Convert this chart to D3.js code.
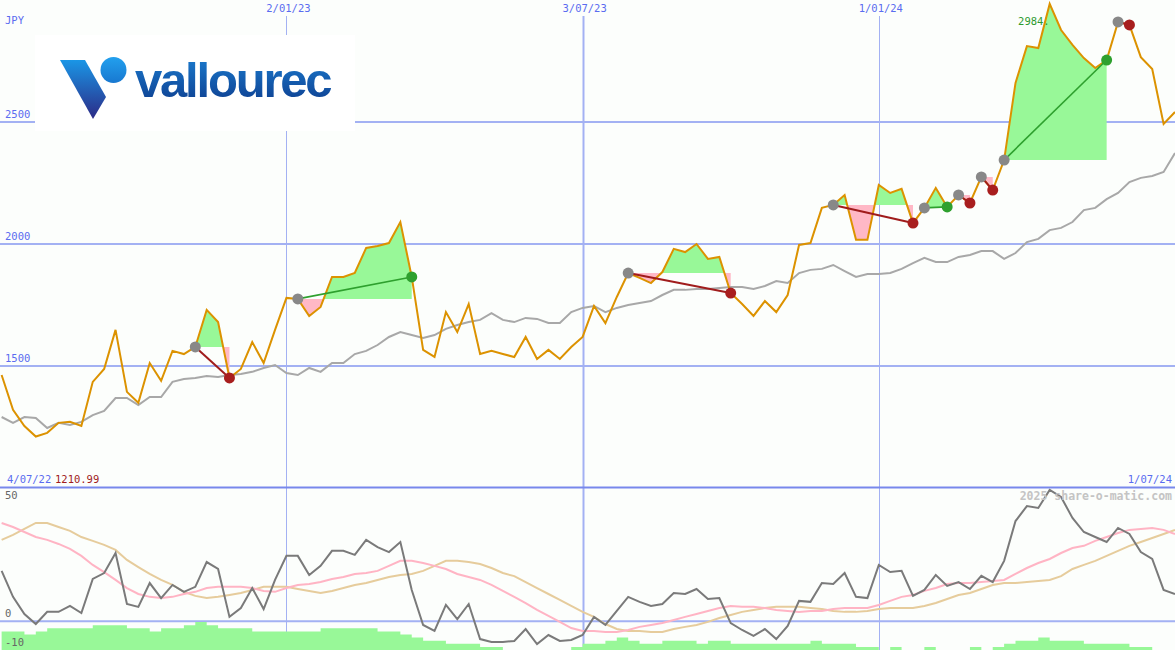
<!DOCTYPE html>
<html><head><meta charset="utf-8">
<script src="https://cdn.jsdelivr.net/npm/d3@7"></script>
<style>html,body{margin:0;padding:0;background:#fcfefc;overflow:hidden}</style>
</head><body>
<script>
// ---------- DATA ----------
const firstWeek = [2022, 6, 11];           // weekly points, Mondays
const price = [1463,1320,1254,1210.99,1226,1267,1271,1254,1435,1488,
  1648,1394,1349,1512,1439,1562,1549,1578,1730,1680,
  1451,1488,1598,1512,1648,1779,1775,1705,1742,1865,
  1865,1881,1984,1992,2004,2090,1865,1566,1537,1721,
  1639,1754,1549,1562,1549,1537,1619,1529,1566,1529,
  1578,1619,1746,1676,1783,1881,1861,1840,1885,1980,
  1967,2000,1939,1947,1799,1754,1705,1766,1721,1791,
  1996,2004,2148,2160,2201,2017,2017,2242,2209,2226,
  2086,2148,2230,2152,2201,2168,2275,2221,2344,2660,
  2811,2803,2984,2877,2816,2762,2721,2754,2910,2898,
  2766,2717,2492,2541];
const bench = [1291,1267,1291,1287,1246,1267,1258,1271,1299,1316,
  1369,1369,1340,1373,1373,1435,1447,1451,1459,1455,
  1463,1467,1476,1492,1504,1471,1463,1492,1476,1512,
  1512,1549,1562,1586,1619,1639,1627,1615,1627,1652,
  1668,1680,1689,1717,1689,1680,1697,1693,1676,1676,
  1721,1738,1746,1721,1738,1750,1758,1766,1791,1812,
  1812,1816,1816,1820,1824,1824,1816,1828,1848,1840,
  1881,1894,1898,1914,1889,1865,1877,1877,1881,1898,
  1922,1943,1926,1926,1947,1955,1971,1971,1939,1963,
  2008,2021,2057,2066,2090,2139,2148,2184,2209,2254,
  2271,2279,2295,2373];
const osc = [21.1,10.2,3.0,-1.2,3.9,3.9,6.4,3.4,17.7,20.2,
  28.6,7.2,6.0,16.0,9.7,15.2,12.3,14.4,24.8,21.9,
  1.8,5.5,13.9,5.1,17.3,27.4,27.4,19.4,23.2,29.5,
  29.5,27.8,34.1,31.1,29.0,33.2,13.1,-1.6,-4.1,6.8,
  0.9,7.2,-7.5,-8.7,-8.7,-8.3,-3.3,-9.6,-5.8,-8.3,
  -7.9,-5.8,1.8,-1.6,4.3,10.2,8.1,6.4,7.2,11.8,
  11.4,13.5,9.3,9.7,-0.8,-3.7,-6.2,-3.3,-7.5,-2.0,
  8.5,8.1,16.0,15.6,20.2,10.2,9.7,23.6,20.6,21.1,
  10.6,13.1,19.4,14.8,16.4,13.5,19.0,16.4,25.3,42.0,
  48.3,47.5,55.1,52.1,43.3,37.4,35.3,33.2,39.1,36.6,
  29.0,26.1,13.1,11.4];
const oscFast = [41.2,39.5,37.4,35.3,34.1,32.4,30.3,27.4,23.6,20.6,
  17.3,13.9,11.4,10.2,9.7,10.2,11.4,12.3,13.9,14.4,
  14.4,14.4,13.9,12.7,12.3,13.9,15.2,15.6,16.4,17.7,
  18.5,19.8,20.2,21.1,23.2,25.3,25.3,24.4,23.2,21.9,
  19.8,18.5,17.3,15.2,12.7,10.2,7.6,4.7,2.2,-0.3,
  -2.9,-4.1,-4.1,-4.5,-4.5,-3.7,-2.4,-1.6,-0.8,0.5,
  1.8,3.0,4.3,5.5,6.4,6.0,6.0,5.5,4.7,4.3,
  3.9,4.3,4.3,5.1,5.5,5.5,5.5,6.8,8.5,10.2,
  11.0,12.7,13.9,15.6,16.0,16.0,16.4,16.9,17.3,19.8,
  22.3,24.4,26.1,28.6,30.7,31.6,33.7,35.3,37.0,38.3,
  38.7,39.1,38.3,36.6];
const oscSlow = [34.1,36.2,38.7,41.2,41.2,39.5,37.9,35.3,33.7,32.0,
  29.9,25.7,22.7,19.8,17.3,15.2,12.3,10.6,9.7,10.2,
  11.0,11.8,13.1,14.4,14.4,14.4,13.5,12.7,11.8,12.7,
  13.9,15.2,16.0,17.3,18.5,19.4,19.8,21.1,23.2,25.3,
  25.3,24.8,24.0,22.3,20.2,18.9,16.4,13.9,11.4,8.9,
  6.4,3.9,1.8,-1.2,-3.3,-4.1,-4.1,-4.5,-4.5,-3.3,
  -2.4,-1.6,-0.3,1.3,2.6,3.9,4.7,5.5,6.0,6.0,
  6.0,5.5,5.1,4.3,3.9,3.9,4.3,5.1,5.5,5.5,
  5.5,6.4,7.6,9.3,11.0,11.8,13.5,15.2,16.0,16.0,
  16.4,16.9,17.3,18.9,21.9,23.6,25.3,27.4,29.5,31.6,
  33.2,34.9,36.6,38.3];
const bars = [6,6,5,6,7,7,7,7,8,8,
  8,7,7,6,7,7,8,9,8,7,
  7,7,6,6,6,6,6,6,7,7,
  7,7,7,6,6,5,4,3,3,2,
  2,2,1,1,0,0,0,0,0,0,
  1,2,2,3,4,3,2,2,3,3,
  3,2,3,3,2,2,2,2,2,2,
  2,3,2,2,2,1,1,0,1,0,
  0,1,0,0,0,1,0,1,2,3,
  3,4,3,3,3,2,2,2,2,1,
  1,0,0,0];
const tradeEntry = [17,26,55,73,81,84,86,88,98];
const tradeExit  = [20,36,64,80,83,85,87,97,99];
const priceTicks = [2500,2000,1500];
const oscTicks = [50,0,-10];
const gridDates = [[2023,0,2],[2023,6,3],[2024,0,1]];
const gridLabels = ["2/01/23","3/07/23","1/01/24"];
const startLabel = "4/07/22", endLabel = "1/07/24";
const currency = "JPY", minLabel = "1210.99", maxLabel = "2984.";
const credit = "2025 share-o-matic.com";

// ---------- SETUP ----------
const W = 1175, H = 650;
const dates = price.map((_, i) => new Date(Date.UTC(firstWeek[0], firstWeek[1], firstWeek[2] + 7 * i)));
const x = d3.scaleUtc().domain([new Date(Date.UTC(2022,6,10)), new Date(Date.UTC(2024,6,1))]).range([0, W]);
const y = d3.scaleLinear().domain([1000, 3000]).range([488, 0]);
const yo = d3.scaleLinear().domain([-10, 50]).range([645, 502]);
const yb = d3.scaleLinear().domain([0, 10]).range([650, 619]);

const svg = d3.select("body").append("svg").attr("width", W).attr("height", H)
  .style("display","block");
svg.append("rect").attr("width", W).attr("height", H).attr("fill", "#fcfefc");
const defs = svg.append("defs");
defs.append("clipPath").attr("id","topClip").append("rect").attr("x",0).attr("y",0).attr("width",W).attr("height",487);
defs.append("clipPath").attr("id","botClip").append("rect").attr("x",0).attr("y",488).attr("width",W).attr("height",H-488);

const font = "'DejaVu Sans Mono', monospace";
const blue = "#5a6cf0", gridC = "#a3b1f3";

// horizontal grid (price)
svg.selectAll(".hg").data(priceTicks).join("line")
  .attr("x1",0).attr("x2",W).attr("y1",d=>y(d)).attr("y2",d=>y(d))
  .attr("stroke",gridC).attr("stroke-width",2);
// oscillator zero line
svg.append("line").attr("x1",0).attr("x2",W).attr("y1",yo(0)).attr("y2",yo(0))
  .attr("stroke",gridC).attr("stroke-width",2);
// vertical grid
svg.selectAll(".vg").data(gridDates).join("line")
  .attr("x1",d=>Math.round(x(new Date(Date.UTC(...d))))+0.5).attr("x2",d=>Math.round(x(new Date(Date.UTC(...d))))+0.5)
  .attr("y1",16).attr("y2",H)
  .attr("stroke",gridC).attr("stroke-width",(d,i)=> i===1 ? 2 : 1);

// ---------- TOP PANEL ----------
const topG = svg.append("g").attr("clip-path","url(#topClip)");
const line = (arr, sc) => d3.line().x((d,i)=>x(dates[i])).y(d=>sc(d))(arr);

// trade fills
tradeEntry.forEach((s, k) => {
  const e = tradeExit[k];
  const y0 = y(price[s]);
  const idx = d3.range(s, e + 1);
  const area = d3.area().x(i=>x(dates[i])).y0(y0).y1(i=>y(price[i]));
  defs.append("clipPath").attr("id","up"+k).append("rect").attr("x",0).attr("y",0).attr("width",W).attr("height",y0);
  defs.append("clipPath").attr("id","dn"+k).append("rect").attr("x",0).attr("y",y0).attr("width",W).attr("height",488-y0);
  topG.append("path").attr("d",area(idx)).attr("fill","#98f898").attr("clip-path","url(#up"+k+")");
  topG.append("path").attr("d",area(idx)).attr("fill","#ffb8c6").attr("clip-path","url(#dn"+k+")");
});

topG.append("path").attr("d",line(bench,y)).attr("fill","none").attr("stroke","#a8a8a8").attr("stroke-width",2);
topG.append("path").attr("d",line(price,y)).attr("fill","none").attr("stroke","#dc9200").attr("stroke-width",2);

// trade lines & dots
tradeEntry.forEach((s, k) => {
  const e = tradeExit[k];
  const win = price[e] > price[s];
  topG.append("line").attr("x1",x(dates[s])).attr("y1",y(price[s])).attr("x2",x(dates[e])).attr("y2",y(price[e]))
    .attr("stroke", win ? "#2ea02e" : "#a01c1c").attr("stroke-width", win ? 1.6 : 2);
  topG.append("circle").attr("cx",x(dates[s])).attr("cy",y(price[s])).attr("r",5.5).attr("fill","#888888");
  topG.append("circle").attr("cx",x(dates[e])).attr("cy",y(price[e])).attr("r",5.5).attr("fill", win ? "#2ea02e" : "#a81e1e");
});

// ---------- LOGO ----------
svg.append("rect").attr("x",35).attr("y",35).attr("width",320).attr("height",96).attr("fill","#ffffff");
const lg = defs.append("linearGradient").attr("id","vgrad").attr("x1",0).attr("y1",0).attr("x2",0).attr("y2",1);
lg.append("stop").attr("offset",0).attr("stop-color","#1a96e6");
lg.append("stop").attr("offset",1).attr("stop-color","#2c2a86");
const tg = defs.append("linearGradient").attr("id","tgrad").attr("x1",0).attr("y1",0).attr("x2",0).attr("y2",1);
tg.append("stop").attr("offset",0).attr("stop-color","#1c7fd2");
tg.append("stop").attr("offset",1).attr("stop-color","#0d3b8c");
const cg = defs.append("linearGradient").attr("id","cgrad").attr("x1",0).attr("y1",0).attr("x2",0).attr("y2",1);
cg.append("stop").attr("offset",0).attr("stop-color","#22a0ee");
cg.append("stop").attr("offset",1).attr("stop-color","#1878d0");
svg.append("polygon").attr("points","60,60 85,60 106,97 93,119").attr("fill","url(#vgrad)");
svg.append("circle").attr("cx",113.5).attr("cy",70).attr("r",13).attr("fill","url(#cgrad)");
svg.append("text").attr("x",135).attr("y",97).text("vallourec")
  .attr("font-family","'Liberation Sans', Arial, sans-serif").attr("font-weight","bold")
  .attr("font-size",49).attr("letter-spacing","-2.2px").attr("fill","url(#tgrad)");

// ---------- BOTTOM PANEL ----------
const botG = svg.append("g").attr("clip-path","url(#botClip)");
botG.append("path").attr("d", d3.area().curve(d3.curveStepAfter)
    .x((d,i)=> i < bars.length ? x(dates[i]) : W).y0(yb(0)).y1(d=>yb(d))([...bars, bars[bars.length-1]]))
  .attr("fill","#98f898");
botG.append("path").attr("d",line(oscSlow,yo)).attr("fill","none").attr("stroke","#e6cc9c").attr("stroke-width",2);
botG.append("path").attr("d",line(oscFast,yo)).attr("fill","none").attr("stroke","#ffb4c4").attr("stroke-width",2);
botG.append("path").attr("d",line(osc,yo)).attr("fill","none").attr("stroke","#7a7a7a").attr("stroke-width",2);

// panel separator
svg.append("line").attr("x1",0).attr("x2",W).attr("y1",487.5).attr("y2",487.5).attr("stroke","#7888ec").attr("stroke-width",2);

// ---------- TEXT ----------
const txt = (s, xx, yy, col, anchor="start", size=10.5, weight="normal") =>
  svg.append("text").attr("x",xx).attr("y",yy).text(s).attr("fill",col)
    .attr("font-family",font).attr("font-size",size).attr("text-anchor",anchor).attr("font-weight",weight);

txt(currency, 5, 24, blue);
priceTicks.forEach(t => txt(String(t), 5, y(t) - 4, blue));
gridDates.forEach((d, i) => txt(gridLabels[i], x(new Date(Date.UTC(...d))) + 2, 12, blue, "middle"));
txt(startLabel, 7, 483, blue);
txt(minLabel, 55, 483, "#a01c1c");
txt(endLabel, 1172, 483, blue, "end");
txt(maxLabel, x(dates[92]), 25, "#2e9a2e", "end");
txt(credit, 1172, 500, "#c4c4c4", "end", 11.5, "bold");
const oscLabelY = [499, 617, 646];
oscTicks.forEach((t, i) => txt(String(t), 5, oscLabelY[i], "#666666"));
</script>
</body></html>
